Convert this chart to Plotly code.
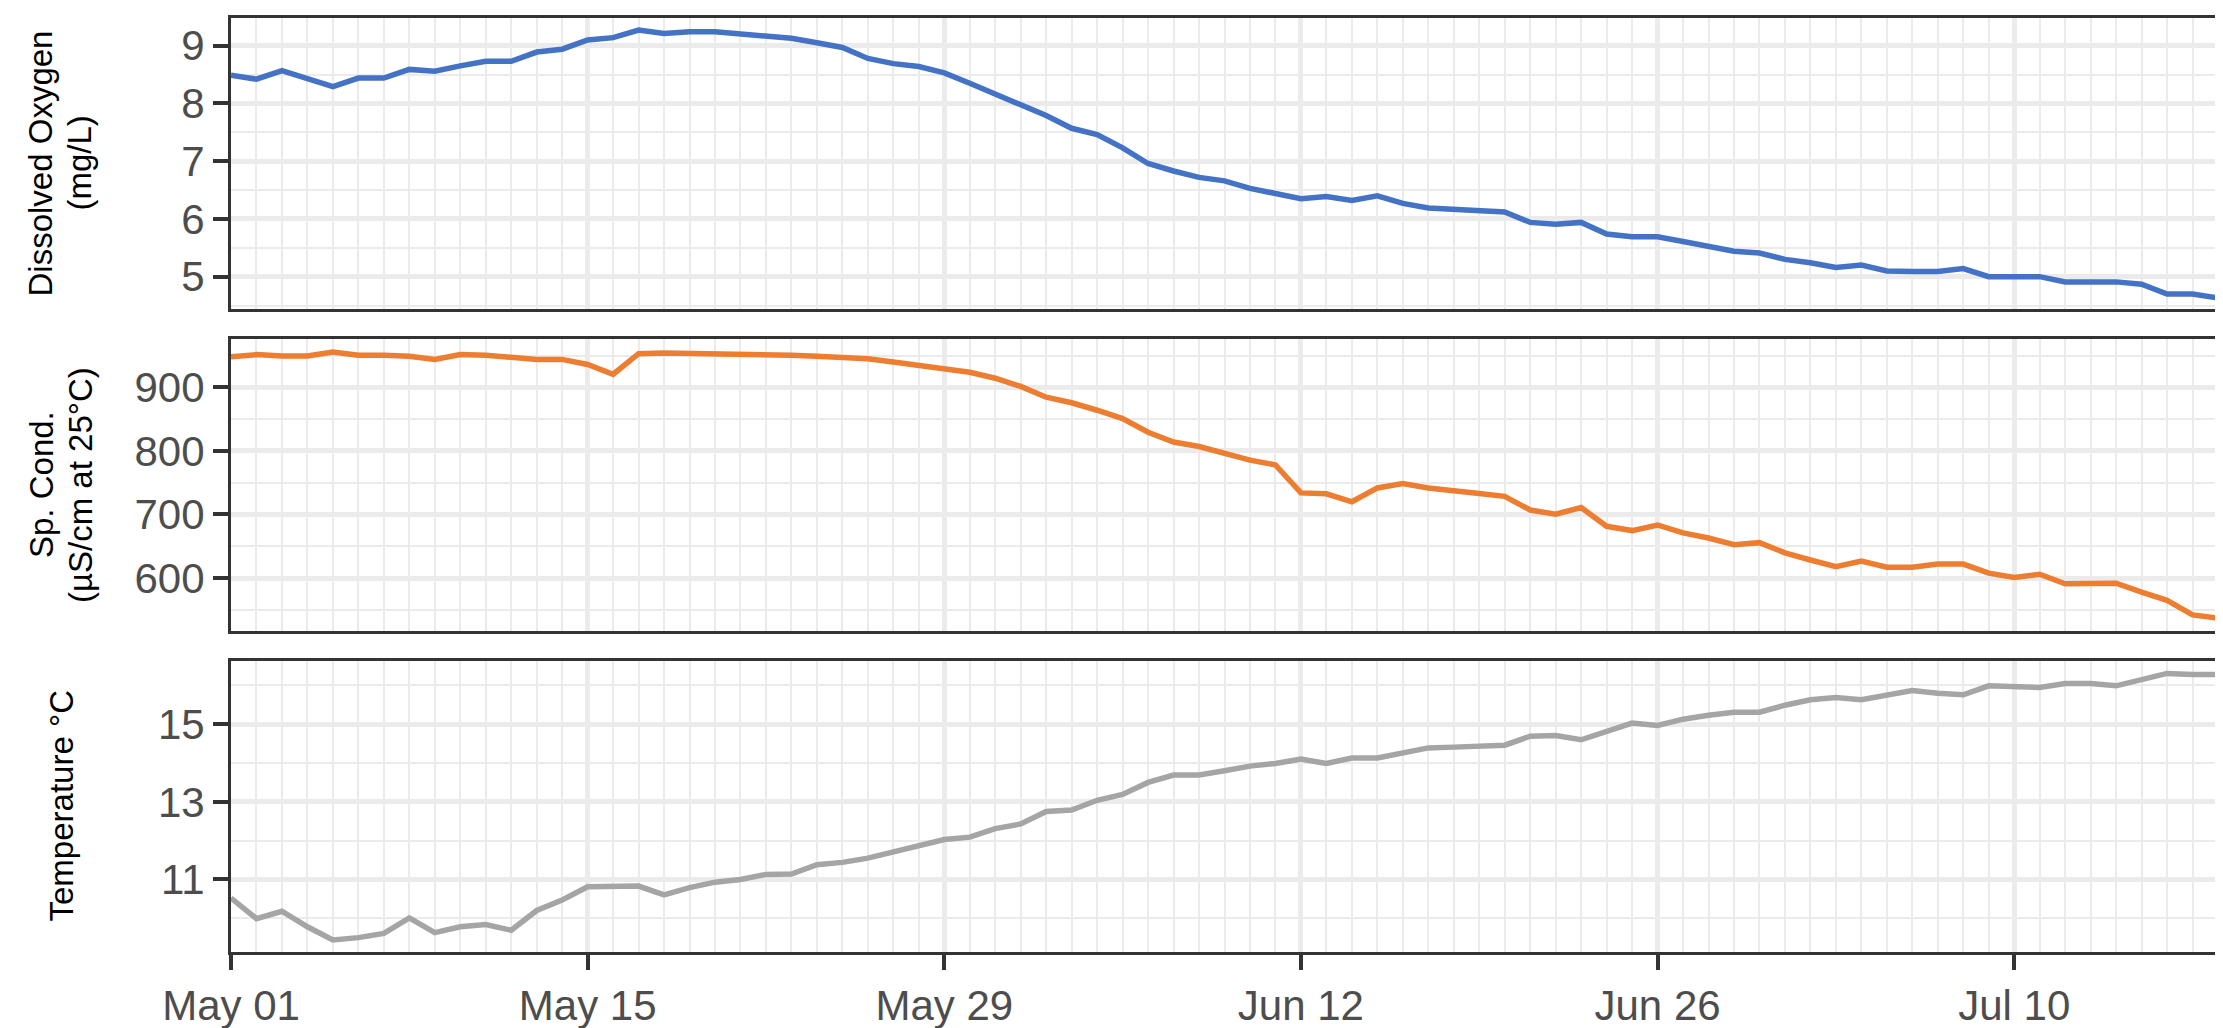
import pandas as pd
import plotly.graph_objects as go

# ---- data (daily values) ----
dates = pd.date_range("2023-05-01", "2023-07-18", freq="D")

dissolved_oxygen = [
    8.49, 8.42, 8.57, 8.43, 8.29, 8.44, 8.44, 8.59, 8.56, 8.65,
    8.73, 8.73, 8.89, 8.94, 9.10, 9.14, 9.27, 9.21, 9.24, 9.24,
    9.20, 9.16, 9.13, 9.05, 8.97, 8.78, 8.69, 8.64, 8.53, 8.35,
    8.16, 7.98, 7.79, 7.57, 7.46, 7.23, 6.96, 6.83, 6.72, 6.66,
    6.53, 6.44, 6.35, 6.39, 6.32, 6.40, 6.27, 6.19, 6.17, 6.15,
    6.12, 5.94, 5.91, 5.94, 5.74, 5.69, 5.69, 5.61, 5.52, 5.44,
    5.41, 5.30, 5.24, 5.16, 5.20, 5.10, 5.09, 5.09, 5.14, 5.00,
    5.00, 5.00, 4.91, 4.91, 4.91, 4.87, 4.70, 4.70, 4.63,
]

sp_cond = [
    948, 951.5, 949.5, 949.5, 955.7, 950.5, 950.5, 949, 944, 951.5,
    950.5, 948, 944, 944, 936, 920.6, 953, 954, 953.6, 952,
    952, 951.5, 950.5, 949, 947, 945, 940, 935, 929, 923.7,
    914.4, 901.5, 884.5, 875.8, 864, 851, 829.4, 814, 807, 797,
    785.6, 778, 734, 732.5, 720, 741.8, 748.5, 741.8, 736.6, 733,
    728.5, 707, 700.5, 711, 681.4, 674.7, 683.5, 671, 663, 652.6,
    655.7, 639.7, 628.4, 618, 626.8, 617, 617, 622, 622, 607.7,
    601, 606, 591, 591, 592, 578, 565, 542, 537,
]

temperature = [
    10.52, 9.99, 10.18, 9.78, 9.44, 9.50, 9.61, 10.01, 9.63, 9.78,
    9.84, 9.69, 10.20, 10.47, 10.81, 10.81, 10.83, 10.60, 10.79, 10.93,
    11.00, 11.13, 11.14, 11.38, 11.44, 11.55, 11.72, 11.88, 12.03, 12.09,
    12.31, 12.43, 12.75, 12.79, 13.04, 13.19, 13.50, 13.69, 13.69, 13.80,
    13.92, 13.99, 14.10, 13.99, 14.13, 14.13, 14.26, 14.39, 14.41, 14.44,
    14.46, 14.69, 14.71, 14.60, 14.83, 15.03, 14.97, 15.13, 15.23, 15.31,
    15.31, 15.49, 15.63, 15.69, 15.63, 15.74, 15.87, 15.80, 15.76, 15.99,
    15.97, 15.95, 16.05, 16.05, 15.99, 16.15, 16.31, 16.28, 16.28,
]

# ---- styling ----
W, H = 2223, 1028
ML, MR, MT, MB = 223, 13, 7, 71
PW = W - ML - MR
PH = H - MT - MB
FONT = "Liberation Sans, Arial, sans-serif"
GRID = "#EBEBEB"
BORDER = "#333333"
TICKTXT = "#4D4D4D"
DAY = 86400000
LW = 5.5


def ydom(top_px, bot_px):
    return [(H - MB - bot_px) / PH, (H - MB - top_px) / PH]


dom1 = ydom(7, 303)
dom2 = ydom(334, 630)
dom3 = ydom(661, 957)

fig = go.Figure()
fig.add_trace(go.Scatter(x=dates, y=dissolved_oxygen, mode="lines",
                         line=dict(color="#4472C4", width=LW),
                         xaxis="x", yaxis="y", showlegend=False))
fig.add_trace(go.Scatter(x=dates, y=sp_cond, mode="lines",
                         line=dict(color="#ED7D31", width=LW),
                         xaxis="x2", yaxis="y2", showlegend=False))
fig.add_trace(go.Scatter(x=dates, y=temperature, mode="lines",
                         line=dict(color="#A5A5A5", width=LW),
                         xaxis="x3", yaxis="y3", showlegend=False))

xcommon = dict(
    type="date", range=["2023-05-01", "2023-07-18"],
    tick0="2023-05-01", dtick=14 * DAY, tickformat="%b %d",
    showgrid=True, gridcolor=GRID, gridwidth=4.5,
    minor=dict(dtick=DAY, showgrid=True, gridcolor=GRID, gridwidth=2.2),
    showline=True, mirror=True, linecolor=BORDER, linewidth=3,
    zeroline=False, domain=[0, 1],
    tickfont=dict(family=FONT, size=42, color=TICKTXT),
)
ycommon = dict(
    showgrid=True, gridcolor=GRID, gridwidth=4.5,
    showline=True, mirror=True, linecolor=BORDER, linewidth=3,
    zeroline=False, ticks="outside", ticklen=15, tickwidth=4, tickcolor=BORDER,
    tickfont=dict(family=FONT, size=42, color=TICKTXT),
)

fig.update_layout(
    width=W, height=H,
    margin=dict(l=ML, r=MR, t=MT, b=MB),
    paper_bgcolor="white", plot_bgcolor="white",
    xaxis=dict(xcommon, anchor="y", showticklabels=False, ticks=""),
    xaxis2=dict(xcommon, anchor="y2", matches="x", showticklabels=False, ticks=""),
    xaxis3=dict(xcommon, anchor="y3", matches="x", ticks="outside", ticklen=15,
                tickwidth=4, tickcolor=BORDER),
    yaxis=dict(ycommon, domain=dom1, anchor="x", range=[4.44, 9.48],
               tick0=0, dtick=1,
               minor=dict(dtick=0.5, showgrid=True, gridcolor=GRID, gridwidth=2.2)),
    yaxis2=dict(ycommon, domain=dom2, anchor="x2", range=[517.5, 975.3],
                tick0=0, dtick=100,
                minor=dict(dtick=50, showgrid=True, gridcolor=GRID, gridwidth=2.2)),
    yaxis3=dict(ycommon, domain=dom3, anchor="x3", range=[9.13, 16.63],
                tick0=11, dtick=2,
                minor=dict(dtick=1, showgrid=True, gridcolor=GRID, gridwidth=2.2)),
)


def px2paper(px):
    return (px - ML) / PW


def title(text, xpx, dom):
    fig.add_annotation(text=text, xref="paper", yref="paper",
                       x=px2paper(xpx), y=(dom[0] + dom[1]) / 2,
                       xanchor="center", yanchor="middle", textangle=-90,
                       showarrow=False,
                       font=dict(family=FONT, size=33, color="black"))


title("Dissolved Oxygen", 33, dom1)
title("(mg/L)", 72, dom1)
title("Sp. Cond.", 33, dom2)
title("(µS/cm at 25°C)", 72, dom2)
title("Temperature °C", 53, dom3)

fig.write_html("out.html")
